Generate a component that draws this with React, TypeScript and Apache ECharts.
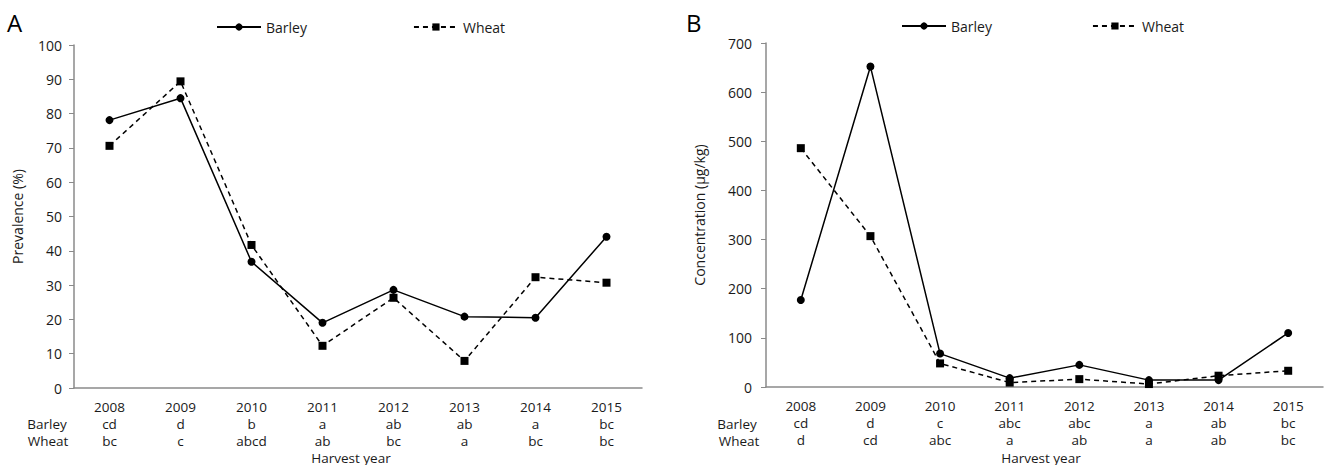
import React, { useEffect, useRef } from "react";
import * as echarts from "echarts";

const years = ["2008", "2009", "2010", "2011", "2012", "2013", "2014", "2015"];
const prevBarley = [78.1, 84.5, 36.8, 19.0, 28.6, 20.8, 20.5, 44.1];
const prevWheat = [70.6, 89.4, 41.7, 12.3, 26.3, 7.9, 32.3, 30.7];
const concBarley = [177, 652, 68, 18, 45, 14, 14, 110];
const concWheat = [486, 307, 48, 9, 16, 6, 23, 33];
const lettersA_Barley = ["cd", "d", "b", "a", "ab", "ab", "a", "bc"];
const lettersA_Wheat = ["bc", "c", "abcd", "ab", "bc", "a", "bc", "bc"];
const lettersB_Barley = ["cd", "d", "c", "abc", "abc", "a", "ab", "bc"];
const lettersB_Wheat = ["d", "cd", "abc", "a", "ab", "a", "ab", "bc"];

const FONT = "'Open Sans', 'Noto Sans', sans-serif";
const AXIS_COLOR = "#8a8a8a";
const TEXT_COLOR = "#1a1a1a";
const FS = 14;
const XFS = 13.5;

export default function App() {
  const ref = useRef<HTMLDivElement>(null);
  useEffect(() => {
    if (!ref.current) return;
    const chart = echarts.init(ref.current, undefined, { renderer: "svg" });
    const xAxisBase = (idx: number, bl: string[], wl: string[]) => ({
      type: "category",
      gridIndex: idx,
      data: years,
      boundaryGap: true,
      axisLine: { lineStyle: { color: AXIS_COLOR, width: 1.5 } },
      axisTick: { alignWithLabel: true, length: 5, lineStyle: { color: AXIS_COLOR } },
      axisLabel: {
        margin: 10,
        fontFamily: FONT,
        fontSize: XFS,
        color: TEXT_COLOR,
        lineHeight: 17,
        formatter: (v: string, i: number) => `${v}\n${bl[i]}\n${wl[i]}`,
      },
    });
    const yAxisBase = (idx: number, max: number, interval: number, name: string, gap: number, margin: number) => ({
      type: "value",
      gridIndex: idx,
      min: 0,
      max,
      interval,
      splitLine: { show: false },
      axisLine: { show: true, lineStyle: { color: AXIS_COLOR, width: 1.5 } },
      axisTick: { show: true, length: 5, lineStyle: { color: AXIS_COLOR } },
      axisLabel: { margin, fontFamily: FONT, fontSize: FS, color: TEXT_COLOR },
      name,
      nameLocation: "middle",
      nameRotate: 90,
      nameGap: gap,
      nameTextStyle: { fontFamily: FONT, fontSize: 14, color: TEXT_COLOR },
    });
    const barleySeries = (idx: number, data: number[]) => ({
      type: "line",
      name: "Barley",
      xAxisIndex: idx,
      yAxisIndex: idx,
      data,
      symbol: "circle",
      symbolSize: 8,
      itemStyle: { color: "#000" },
      lineStyle: { color: "#000", width: 1.5, type: "solid" },
    });
    const wheatSeries = (idx: number, data: number[]) => ({
      type: "line",
      name: "Wheat",
      xAxisIndex: idx,
      yAxisIndex: idx,
      data,
      symbol: "rect",
      symbolSize: 8,
      itemStyle: { color: "#000" },
      lineStyle: { color: "#000", width: 1.5, type: [5, 4] },
    });
    const legendBase = (left: number, top: number, gap: number) => ({
      left,
      top,
      padding: 0,
      itemWidth: 44,
      itemHeight: 9,
      itemGap: gap,
      textStyle: { fontFamily: FONT, fontSize: FS, color: TEXT_COLOR },
      data: ["Barley", "Wheat"],
    });
    const rowText = (x: number, y: number, text: string, fs = XFS) => ({
      type: "text",
      x,
      y,
      style: {
        text,
        fontFamily: FONT,
        fontSize: fs,
        fill: TEXT_COLOR,
        align: "center",
        verticalAlign: "middle",
      },
    });
    chart.setOption({
      animation: false,
      grid: [
        { left: 74, right: 684, top: 45, bottom: 77, outerBoundsMode: "none" },
        { left: 766, right: 3, top: 43, bottom: 78, outerBoundsMode: "none" },
      ],
      xAxis: [xAxisBase(0, lettersA_Barley, lettersA_Wheat), xAxisBase(1, lettersB_Barley, lettersB_Wheat)],
      yAxis: [
        yAxisBase(0, 100, 10, "Prevalence (%)", 50, 12),
        yAxisBase(1, 700, 100, "Concentration (µg/kg)", 60, 14),
      ],
      legend: [legendBase(216, 20, 106), legendBase(901, 19, 100)],
      series: [
        barleySeries(0, prevBarley),
        wheatSeries(0, prevWheat),
        barleySeries(1, concBarley),
        wheatSeries(1, concWheat),
      ],
      graphic: [
        { type: "text", x: 7, y: 10, style: { text: "A", fontFamily: FONT, fontSize: 24, fill: "#000" } },
        { type: "text", x: 686, y: 10, style: { text: "B", fontFamily: FONT, fontSize: 24, fill: "#000" } },
        rowText(47, 423.5, "Barley"),
        rowText(48, 440.5, "Wheat"),
        rowText(737, 423.5, "Barley"),
        rowText(739, 440.5, "Wheat"),
        rowText(351, 457.5, "Harvest year", 13.5),
        rowText(1041, 457.5, "Harvest year", 13.5),
      ],
    });
    return () => chart.dispose();
  }, []);
  return (
    <div
      ref={ref}
      style={{ position: "fixed", left: 0, top: 0, width: 1326, height: 465, background: "#fff" }}
    />
  );
}
